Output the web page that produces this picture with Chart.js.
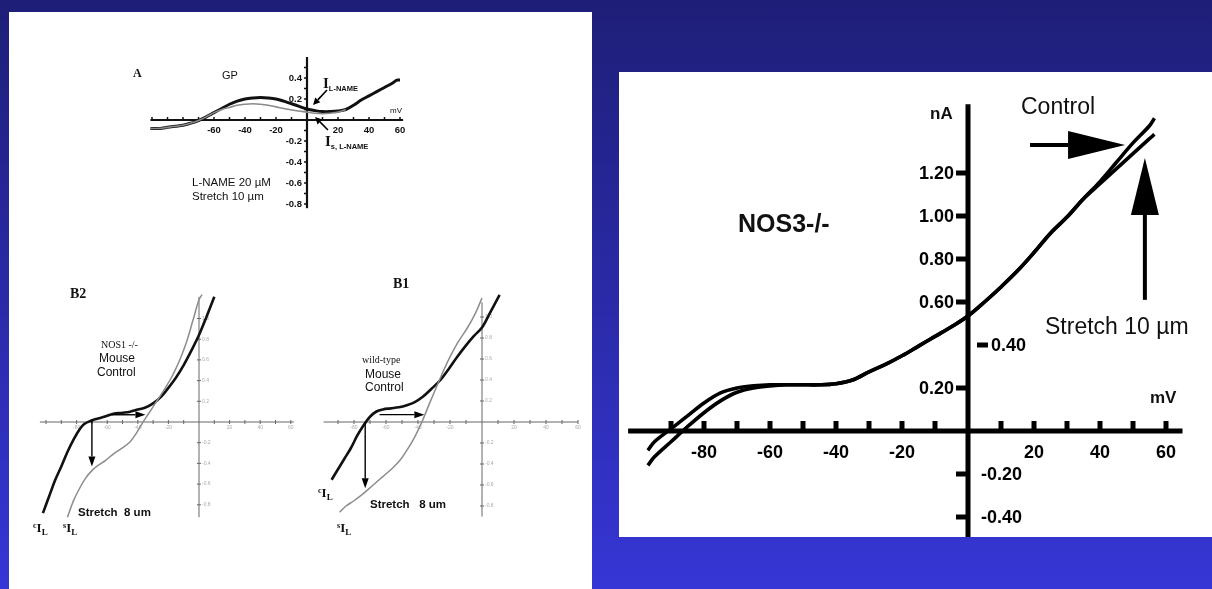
<!DOCTYPE html>
<html><head><meta charset="utf-8">
<script src="https://cdn.jsdelivr.net/npm/chart.js@4/dist/chart.umd.min.js"></script>
<style>
html,body{margin:0;padding:0;width:1212px;height:589px;overflow:hidden;}
body{background:linear-gradient(#1e1e78,#3636d6);position:relative;font-family:Arial,"Liberation Sans",sans-serif;}
#left{position:absolute;left:9px;top:12px;width:583px;height:577px;background:#fff;}
#right{position:absolute;left:619px;top:72px;width:593px;height:465px;background:#fff;}
canvas{position:absolute;}
.t{position:absolute;line-height:1;white-space:pre;color:#111;}
.serif{font-family:"Times New Roman","Liberation Serif",serif;}
</style></head><body>
<div id="left"></div><div id="right"></div>
<canvas id="cA" width="300" height="170" style="left:120px;top:50px"></canvas>
<canvas id="cB2" width="280" height="280" style="left:30px;top:270px"></canvas>
<canvas id="cB1" width="290" height="280" style="left:300px;top:270px"></canvas>
<canvas id="cR" width="593" height="465" style="left:619px;top:72px"></canvas>

<!-- right panel texts -->
<div class="t" style="left:738px;top:211px;font-size:25px;font-weight:bold;">NOS3-/-</div>
<div class="t" style="left:1021px;top:95px;font-size:23px;">Control</div>
<div class="t" style="left:1045px;top:315px;font-size:23px;">Stretch 10 µm</div>
<div class="t" style="left:930px;top:105px;font-size:17px;font-weight:bold;">nA</div>
<div class="t" style="left:1150px;top:389px;font-size:17px;font-weight:bold;">mV</div>

<!-- panel A texts -->
<div class="t serif" style="left:133px;top:67px;font-size:12px;font-weight:bold;">A</div>
<div class="t" style="left:222px;top:70px;font-size:11px;">GP</div>
<div class="t" style="left:390px;top:107px;font-size:8px;">mV</div>
<div class="t" style="left:323px;top:75px;"><span class="serif" style="font-size:15px;font-weight:bold;">I</span><span style="font-size:7.5px;font-weight:bold;position:relative;top:3px;">L-NAME</span></div>
<div class="t" style="left:325px;top:133px;"><span class="serif" style="font-size:15px;font-weight:bold;">I</span><span style="font-size:7.5px;font-weight:bold;position:relative;top:3px;">s, L-NAME</span></div>
<div class="t" style="left:192px;top:177px;font-size:11.5px;">L-NAME 20 µM</div>
<div class="t" style="left:192px;top:191px;font-size:11.5px;">Stretch 10 µm</div>

<!-- panel B2 texts -->
<div class="t serif" style="left:70px;top:287px;font-size:14px;font-weight:bold;">B2</div>
<div class="t serif" style="left:101px;top:340px;font-size:10px;">NOS1 -/-</div>
<div class="t" style="left:99px;top:352px;font-size:12px;">Mouse</div>
<div class="t" style="left:97px;top:366px;font-size:12px;">Control</div>
<div class="t" style="left:78px;top:507px;font-size:11.5px;font-weight:bold;">Stretch  8 um</div>
<div class="t serif" style="left:33px;top:519px;font-weight:bold;"><span style="font-size:8px;position:relative;top:-4px;">c</span><span style="font-size:13px;">I</span><span style="font-size:9px;position:relative;top:3px;">L</span></div>
<div class="t serif" style="left:63px;top:519px;font-weight:bold;"><span style="font-size:8px;position:relative;top:-4px;">s</span><span style="font-size:13px;">I</span><span style="font-size:9px;position:relative;top:3px;">L</span></div>

<!-- panel B1 texts -->
<div class="t serif" style="left:393px;top:277px;font-size:14px;font-weight:bold;">B1</div>
<div class="t serif" style="left:362px;top:355px;font-size:10px;">wild-type</div>
<div class="t" style="left:365px;top:368px;font-size:12px;">Mouse</div>
<div class="t" style="left:365px;top:381px;font-size:12px;">Control</div>
<div class="t" style="left:370px;top:499px;font-size:11.5px;font-weight:bold;">Stretch   8 um</div>
<div class="t serif" style="left:318px;top:484px;font-weight:bold;"><span style="font-size:8px;position:relative;top:-4px;">c</span><span style="font-size:13px;">I</span><span style="font-size:9px;position:relative;top:3px;">L</span></div>
<div class="t serif" style="left:337px;top:519px;font-weight:bold;"><span style="font-size:8px;position:relative;top:-4px;">s</span><span style="font-size:13px;">I</span><span style="font-size:9px;position:relative;top:3px;">L</span></div>

<script>
// ---------- DATA ----------
// Right panel (NOS3-/-)
const rightMV = [-97,-95,-90,-85,-80,-75,-70,-65,-60,-55,-50,-45,-40,-35,-30,-25,-20,-15,-10,-5,0,5,10,15,20,25,30,35,40,45,50,55,56.5];
const rightControl = [-0.09,-0.05,0.01,0.07,0.13,0.177,0.20,0.21,0.215,0.215,0.215,0.215,0.22,0.237,0.275,0.31,0.35,0.395,0.44,0.485,0.535,0.60,0.67,0.745,0.83,0.92,0.995,1.08,1.16,1.25,1.34,1.42,1.455];
const rightStretch = [-0.16,-0.12,-0.05,0.02,0.085,0.14,0.18,0.20,0.21,0.215,0.215,0.215,0.22,0.237,0.275,0.31,0.35,0.395,0.44,0.485,0.535,0.60,0.67,0.745,0.83,0.92,0.995,1.08,1.15,1.22,1.29,1.36,1.38];
const rightXTickValues = [-90,-80,-70,-60,-50,-40,-30,-20,-10,10,20,30,40,50,60];
const rightXLabelValues = [-80,-60,-40,-20,20,40,60];
const rightXLabels = ['-80','-60','-40','-20','20','40','60'];
const rightYLabelValues = [1.2,1.0,0.8,0.6,0.4,0.2,-0.2,-0.4];
const rightYLabels = ['1.20','1.00','0.80','0.60','0.40','0.20','-0.20','-0.40'];
const rightYLabelSides = ['left','left','left','left','right','left','right','right'];

// Panel A (GP, L-NAME)
const aMV = [-101,-95,-90,-85,-80,-75,-70,-65,-60,-55,-50,-45,-40,-35,-30,-25,-20,-15,-10,-5,0,5,10,15,20,25,30,35,40,45,50,55,58,60];
const aControl = [-0.08,-0.08,-0.07,-0.06,-0.05,-0.03,-0.005,0.03,0.07,0.11,0.15,0.18,0.20,0.21,0.215,0.21,0.20,0.18,0.155,0.13,0.105,0.09,0.08,0.08,0.085,0.10,0.14,0.19,0.23,0.27,0.31,0.35,0.38,0.38];
const aMVs = [-101,-95,-90,-85,-80,-75,-70,-65,-60,-55,-50,-45,-40,-35,-30,-25,-20,-15,-10,-5,0,5,10,15,20,25];
const aStretch = [-0.08,-0.08,-0.07,-0.06,-0.05,-0.03,-0.005,0.03,0.07,0.10,0.12,0.14,0.15,0.155,0.15,0.14,0.125,0.11,0.095,0.085,0.075,0.065,0.06,0.065,0.075,0.10];
const aXLabelValues = [-60,-40,-20,20,40,60];
const aXLabels = ['-60','-40','-20','20','40','60'];
const aYLabelValues = [0.4,0.2,-0.2,-0.4,-0.6,-0.8];
const aYLabels = ['0.4','0.2','-0.2','-0.4','-0.6','-0.8'];

// Panel B2 (NOS1-/-)
const b2MVc = [-102,-98,-94,-90,-86,-82,-78,-75,-71,-67,-62,-56,-50,-45,-40,-35,-30,-25,-20,-15,-10,-5,0,5,10];
const b2Control = [-0.88,-0.72,-0.56,-0.43,-0.29,-0.17,-0.07,-0.02,0.01,0.03,0.05,0.08,0.09,0.10,0.12,0.14,0.18,0.24,0.33,0.43,0.55,0.69,0.84,1.02,1.21];
const b2MVs = [-86,-82,-78,-74,-70,-66,-61,-56,-50,-45,-41,-37,-33,-29,-25,-22,-18,-15,-12,-8,-4,0,2];
const b2Stretch = [-0.92,-0.76,-0.64,-0.54,-0.47,-0.42,-0.37,-0.31,-0.25,-0.19,-0.11,-0.01,0.08,0.17,0.26,0.33,0.43,0.52,0.62,0.78,0.98,1.18,1.23];

// Panel B1 (wild-type)
const b1MVc = [-94,-90,-86,-82,-78,-74,-70,-66,-62,-57,-52,-47,-42,-37,-32,-26,-21,-16,-10,-5,0,5,11];
const b1Control = [-0.55,-0.45,-0.35,-0.25,-0.13,-0.03,0.05,0.10,0.12,0.13,0.14,0.16,0.19,0.24,0.31,0.40,0.50,0.61,0.73,0.82,0.90,1.04,1.21];
const b1MVs = [-89,-85,-80,-74,-68,-62,-56,-51,-47,-43,-40,-37,-33,-28,-24,-20,-15,-9,-4,0];
const b1Stretch = [-0.86,-0.80,-0.75,-0.68,-0.60,-0.52,-0.44,-0.36,-0.27,-0.17,-0.08,0.02,0.17,0.35,0.49,0.62,0.76,0.90,1.04,1.18];

const bXLabelValues = [-80,-60,-40,-20,20,40,60];
const bXLabels = ['-80','-60','-40','-20','20','40','60'];
const bYLabelValues = [0.2,0.4,0.6,0.8,1.0,-0.2,-0.4,-0.6,-0.8];
const bYLabels = ['0.2','0.4','0.6','0.8','1.0','-0.2','-0.4','-0.6','-0.8'];

// ---------- DRAWING ----------
const pts = (xs, ys) => xs.map((x, i) => ({x, y: ys[i]}));
function range(a, b, s) { const r = []; for (let v = a; v <= b + 1e-9; v += s) { const q = Math.round(v * 1000) / 1000; if (Math.abs(q) > 1e-9) r.push(q); } return r; }

function arrow(ctx, x1, y1, x2, y2, headLen, headHalf, lw, color) {
  const ang = Math.atan2(y2 - y1, x2 - x1);
  const bx = x2 - headLen * Math.cos(ang), by = y2 - headLen * Math.sin(ang);
  ctx.strokeStyle = color; ctx.fillStyle = color; ctx.lineWidth = lw;
  ctx.beginPath(); ctx.moveTo(x1, y1); ctx.lineTo(bx, by); ctx.stroke();
  ctx.beginPath();
  ctx.moveTo(x2, y2);
  ctx.lineTo(bx + headHalf * Math.sin(ang), by - headHalf * Math.cos(ang));
  ctx.lineTo(bx - headHalf * Math.sin(ang), by + headHalf * Math.cos(ang));
  ctx.closePath(); ctx.fill();
}

const crossAxes = {
  id: 'crossAxes',
  beforeDatasetsDraw(chart) {
    const o = chart.options.plugins.crossAxes;
    const ctx = chart.ctx, xs = chart.scales.x, ys = chart.scales.y;
    const X = v => xs.getPixelForValue(v), Y = v => ys.getPixelForValue(v);
    const x0 = X(0), y0 = Y(0);
    ctx.save();
    ctx.strokeStyle = o.color; ctx.fillStyle = o.color; ctx.lineCap = 'butt';
    ctx.lineWidth = o.axisW;
    ctx.beginPath(); ctx.moveTo(X(o.xRange[0]), y0); ctx.lineTo(X(o.xRange[1]), y0); ctx.stroke();
    ctx.beginPath(); ctx.moveTo(x0, Y(o.yRange[0])); ctx.lineTo(x0, Y(o.yRange[1])); ctx.stroke();
    ctx.lineWidth = o.tickW;
    for (const v of o.xTicks) {
      const px = X(v);
      ctx.beginPath(); ctx.moveTo(px, y0 + o.xTickDown); ctx.lineTo(px, y0 - o.xTickUp); ctx.stroke();
    }
    for (const t of o.yTicks) {
      const py = Y(t.v);
      ctx.beginPath(); ctx.moveTo(x0 + t.a, py); ctx.lineTo(x0 + t.b, py); ctx.stroke();
    }
    ctx.fillStyle = o.labelColor || o.color;
    ctx.font = o.font;
    ctx.textBaseline = 'middle';
    ctx.textAlign = 'center';
    o.xLabelValues.forEach((v, i) => ctx.fillText(o.xLabels[i], X(v) + (o.xLabelDx || 0), y0 + o.xLabelDy));
    o.yLabelValues.forEach((v, i) => {
      const side = o.yLabelSides ? o.yLabelSides[i] : o.yLabelSide;
      const off = o.yLabelOff ? o.yLabelOff[i] : o.yLabelGap;
      ctx.textAlign = side === 'left' ? 'right' : 'left';
      ctx.fillText(o.yLabels[i], side === 'left' ? x0 - off : x0 + off, Y(v) + (o.yLabelDy || 0));
    });
    ctx.restore();
  },
  afterDatasetsDraw(chart) {
    const o = chart.options.plugins.crossAxes;
    const ctx = chart.ctx, xs = chart.scales.x, ys = chart.scales.y;
    const X = v => xs.getPixelForValue(v), Y = v => ys.getPixelForValue(v);
    ctx.save();
    for (const a of (o.arrows || [])) arrow(ctx, X(a.x1), Y(a.y1), X(a.x2), Y(a.y2), a.head, a.half, a.lw, '#000');
    ctx.restore();
  }
};

function makeChart(id, originX, originY, pxX, pxY, datasets, axOpts) {
  const cv = document.getElementById(id);
  const w = cv.width, h = cv.height;
  const ox = originX - parseFloat(cv.style.left), oy = originY - parseFloat(cv.style.top);
  return new Chart(cv, {
    type: 'scatter',
    data: { datasets },
    options: {
      responsive: false, animation: false, devicePixelRatio: 1,
      layout: { padding: 0 },
      events: [],
      scales: {
        x: { type: 'linear', display: false, min: -ox / pxX, max: (w - ox) / pxX },
        y: { type: 'linear', display: false, min: -(h - oy) / pxY, max: oy / pxY }
      },
      plugins: { legend: { display: false }, tooltip: { enabled: false }, crossAxes: axOpts }
    },
    plugins: [crossAxes]
  });
}
const line = (data, color, w, extra) => Object.assign({ data, showLine: true, borderColor: color, borderWidth: w, pointRadius: 0, tension: 0.35, fill: false }, extra || {});

// Right chart
makeChart('cR', 968, 431, 3.3, 215, [
  line(pts(rightMV, rightStretch), '#000', 3.6),
  line(pts(rightMV, rightControl), '#000', 3.6)
], {
  color: '#000', axisW: 5, tickW: 5,
  xRange: [-103, 65], yRange: [-0.5, 1.52],
  xTicks: rightXTickValues, xTickUp: 10, xTickDown: 0,
  yTicks: [1.2,1.0,0.8,0.6,0.2,-0.2,-0.4].map(v => ({v, a: -12, b: 0})).concat([{v: 0.4, a: 9, b: 20}]),
  font: 'bold 18px Arial', xLabelValues: rightXLabelValues, xLabels: rightXLabels, xLabelDy: 22,
  yLabelValues: rightYLabelValues, yLabels: rightYLabels, yLabelSides: rightYLabelSides,
  yLabelOff: [14,14,14,14,23,14,13,13], yLabelDy: 1,
  arrows: [
    { x1: 18.8, y1: 1.33, x2: 47.6, y2: 1.33, head: 57, half: 14, lw: 4 },
    { x1: 53.6, y1: 0.61, x2: 53.6, y2: 1.27, head: 57, half: 14, lw: 4 }
  ]
});

// Panel A
makeChart('cA', 307, 120, 1.55, 105, [
  line(pts(aMVs, aStretch), '#8a8a8a', 1.6),
  line(pts(aMV, aControl), '#111', 3)
], {
  color: '#111', axisW: 2.2, tickW: 1.5,
  xRange: [-101, 62], yRange: [-0.84, 0.6],
  xTicks: range(-100, 60, 10), xTickUp: 3, xTickDown: 0,
  yTicks: range(-0.8, 0.5, 0.1).map(v => ({v, a: -3, b: 0})),
  font: 'bold 9.5px Arial', xLabelValues: aXLabelValues, xLabels: aXLabels, xLabelDy: 10,
  yLabelValues: aYLabelValues, yLabels: aYLabels, yLabelSide: 'left', yLabelGap: 5,
  arrows: [
    { x1: 12.9, y1: 0.286, x2: 3.9, y2: 0.143, head: 7, half: 3.5, lw: 1.6 },
    { x1: 13.5, y1: -0.095, x2: 5.2, y2: 0.029, head: 7, half: 3.5, lw: 1.6 }
  ]
});

// Panel B2
makeChart('cB2', 199, 422, 1.53, 103.5, [
  line(pts(b2MVs, b2Stretch), '#8c8c8c', 1.5),
  line(pts(b2MVc, b2Control), '#111', 2.6)
], {
  color: '#666', labelColor: '#aaa', axisW: 1, tickW: 1,
  xRange: [-104, 62], yRange: [-0.92, 1.21],
  xTicks: range(-100, 60, 10), xTickUp: 2, xTickDown: 2,
  yTicks: range(-0.8, 1.0, 0.2).map(v => ({v, a: -2, b: 2})),
  font: '5px Arial', xLabelValues: bXLabelValues, xLabels: bXLabels, xLabelDy: 6,
  yLabelValues: bYLabelValues, yLabels: bYLabels, yLabelSide: 'right', yLabelGap: 3,
  arrows: [
    { x1: -70, y1: 0.02, x2: -70, y2: -0.43, head: 10, half: 3.5, lw: 1.4 },
    { x1: -57, y1: 0.07, x2: -35, y2: 0.07, head: 10, half: 3.5, lw: 1.4 }
  ]
});

// Panel B1
makeChart('cB1', 482, 422, 1.6, 105, [
  line(pts(b1MVs, b1Stretch), '#8c8c8c', 1.5),
  line(pts(b1MVc, b1Control), '#111', 2.6)
], {
  color: '#666', labelColor: '#aaa', axisW: 1, tickW: 1,
  xRange: [-99, 60], yRange: [-0.9, 1.14],
  xTicks: range(-90, 60, 10), xTickUp: 2, xTickDown: 2,
  yTicks: range(-0.8, 1.0, 0.2).map(v => ({v, a: -2, b: 2})),
  font: '5px Arial', xLabelValues: bXLabelValues, xLabels: bXLabels, xLabelDy: 6,
  yLabelValues: bYLabelValues, yLabels: bYLabels, yLabelSide: 'right', yLabelGap: 3,
  arrows: [
    { x1: -73, y1: 0.0, x2: -73, y2: -0.63, head: 10, half: 3.5, lw: 1.4 },
    { x1: -64, y1: 0.07, x2: -36, y2: 0.07, head: 10, half: 3.5, lw: 1.4 }
  ]
});
</script>
</body></html>
